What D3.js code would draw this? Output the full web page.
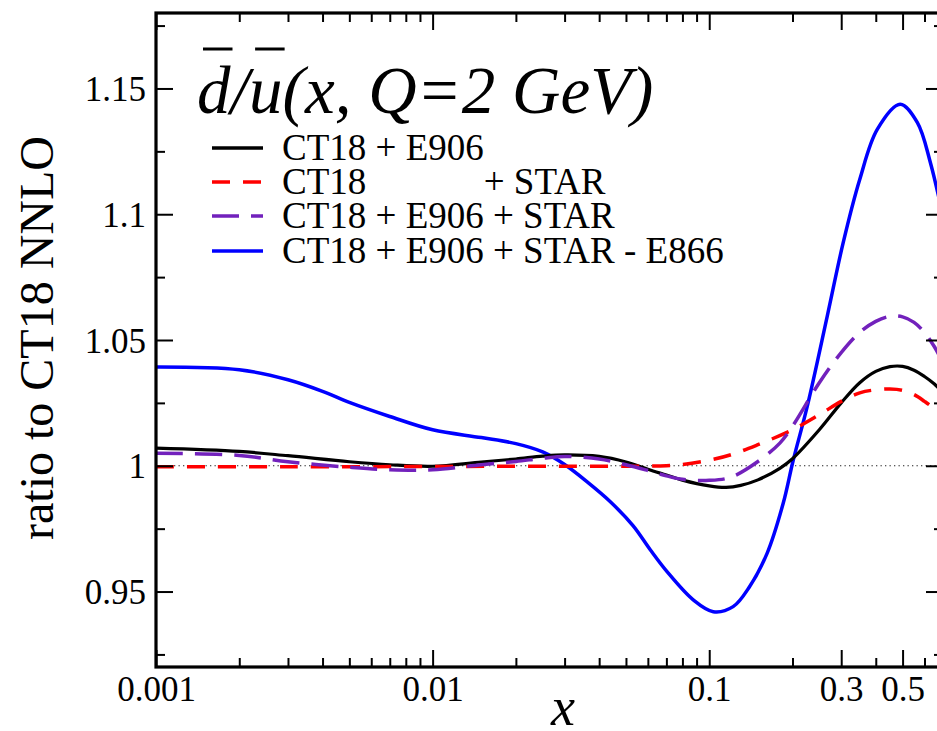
<!DOCTYPE html>
<html>
<head>
<meta charset="utf-8">
<script src="https://cdn.jsdelivr.net/npm/d3@7"></script>
<style>
  html, body { margin: 0; padding: 0; background: #fff; }
  svg { display: block; }
</style>
</head>
<body>
<svg id="chart" width="937" height="731"></svg>
<script>
// Ratio of dbar/ubar at Q = 2 GeV relative to CT18 NNLO, for four fit variants.
const xBlack  = [0.001, 0.002, 0.003, 0.005, 0.007, 0.01, 0.015, 0.02, 0.025, 0.03, 0.04, 0.05, 0.06, 0.07, 0.08, 0.1, 0.115, 0.13, 0.15, 0.18, 0.2, 0.25, 0.3, 0.35, 0.4, 0.45, 0.5, 0.55, 0.6, 0.65, 0.7];
const yBlack  = [1.0070, 1.0057, 1.0040, 1.0016, 1.0004, 0.9998, 1.0015, 1.0027, 1.0038, 1.0043, 1.0037, 1.0015, 0.9986, 0.9963, 0.9943, 0.9920, 0.9914, 0.9922, 0.9944, 0.9990, 1.0028, 1.0143, 1.0250, 1.0330, 1.0375, 1.0394, 1.0395, 1.0380, 1.0355, 1.0326, 1.0290];

const xRed    = [0.001, 0.003, 0.01, 0.02, 0.03, 0.05, 0.07, 0.08, 0.1, 0.12, 0.15, 0.2, 0.25, 0.3, 0.35, 0.4, 0.45, 0.5, 0.55, 0.6, 0.65, 0.7];
const yRed    = [0.9996, 0.9996, 0.9997, 0.9998, 0.9998, 0.9998, 1.0000, 1.0005, 1.0022, 1.0044, 1.0084, 1.0143, 1.0203, 1.0256, 1.0290, 1.0302, 1.0305, 1.0300, 1.0283, 1.0256, 1.0227, 1.0190];

const xPurple = [0.001, 0.002, 0.003, 0.005, 0.007, 0.01, 0.015, 0.02, 0.025, 0.03, 0.04, 0.05, 0.06, 0.07, 0.08, 0.1, 0.12, 0.15, 0.18, 0.2, 0.25, 0.3, 0.35, 0.4, 0.45, 0.5, 0.55, 0.6, 0.65, 0.7];
const yPurple = [1.0050, 1.0041, 1.0016, 0.9994, 0.9984, 0.9984, 1.0004, 1.0017, 1.0030, 1.0037, 1.0027, 1.0004, 0.9981, 0.9960, 0.9946, 0.9942, 0.9955, 1.0017, 1.0090, 1.0157, 1.0330, 1.0450, 1.0530, 1.0574, 1.0594, 1.0592, 1.0570, 1.0530, 1.0475, 1.0410];

const xBlue   = [0.001, 0.002, 0.003, 0.004, 0.005, 0.007, 0.01, 0.015, 0.02, 0.025, 0.03, 0.0362, 0.0439, 0.0531, 0.0612, 0.0705, 0.0875, 0.1034, 0.122, 0.14, 0.162, 0.185, 0.201, 0.226, 0.267, 0.305, 0.35, 0.405, 0.49, 0.565, 0.63, 0.7];
const yBlue   = [1.0393, 1.0382, 1.0342, 1.0296, 1.0252, 1.0196, 1.0143, 1.0112, 1.0088, 1.0055, 1.0005, 0.9936, 0.9857, 0.9761, 0.9666, 0.9578, 0.9467, 0.9420, 0.9440, 0.9520, 0.9653, 0.9850, 1.0020, 1.0235, 1.0594, 1.0887, 1.1138, 1.1337, 1.1437, 1.1365, 1.1206, 1.0990];

const seriesNames  = ["CT18 + E906", "CT18", "CT18 + E906 + STAR", "CT18 + E906 + STAR - E866"];
const seriesColors = ["#000000", "#ff0000", "#7221bc", "#0000ff"];
const seriesDash   = [null, "18,13", "27,12", null];

const xMajorTicks = [0.001, 0.01, 0.1, 0.3, 0.5];
const xMajorLabels = ["0.001", "0.01", "0.1", "0.3", "0.5"];
const xMinorTicks = [0.002, 0.003, 0.004, 0.005, 0.006, 0.007, 0.008, 0.009,
                     0.02, 0.03, 0.04, 0.05, 0.06, 0.07, 0.08, 0.09, 0.2, 0.4, 0.6];
const yMajorTicks = [0.95, 1.0, 1.05, 1.1, 1.15];
const yMajorLabels = ["0.95", "1", "1.05", "1.1", "1.15"];
const yMinorTicks = [0.925, 0.975, 1.025, 1.075, 1.125, 1.175];

const FF = '"Liberation Serif", "Times New Roman", serif';

const svg = d3.select("#chart");
const L = 156, T = 13, B = 667;

const x = d3.scaleLog().domain([0.001, 0.7]).range([L, 943]);
const y = d3.scaleLinear().domain([0.92, 1.18]).range([B, T]);
const R = x(0.7);

svg.append("defs").append("clipPath").attr("id", "plotclip")
  .append("rect").attr("x", L).attr("y", T).attr("width", R - L).attr("height", B - T);

// reference line at ratio = 1
svg.append("line")
  .attr("x1", L).attr("x2", R).attr("y1", y(1)).attr("y2", y(1))
  .attr("stroke", "#222").attr("stroke-width", 1.2).attr("stroke-dasharray", "1.3,3.2");

// curves
const seriesData = [
  d3.zip(xBlack, yBlack),
  d3.zip(xRed, yRed),
  d3.zip(xPurple, yPurple),
  d3.zip(xBlue, yBlue)
];
const line = d3.line().x(d => x(d[0])).y(d => y(d[1])).curve(d3.curveCatmullRom.alpha(0.5));
const plot = svg.append("g").attr("clip-path", "url(#plotclip)");
[3, 0, 1, 2].forEach(i => {
  plot.append("path")
    .attr("d", line(seriesData[i]))
    .attr("fill", "none")
    .attr("stroke", seriesColors[i])
    .attr("stroke-width", i === 0 ? 3.2 : 3.5)
    .attr("stroke-linejoin", "round")
    .attr("stroke-dasharray", seriesDash[i]);
});

// axes with inward ticks on all four sides
function styleAxis(g) {
  g.select(".domain").remove();
  g.selectAll(".tick line").attr("stroke", "#000").attr("stroke-width", 2);
}
svg.append("g").attr("transform", `translate(0,${B})`)
  .call(d3.axisBottom(x).tickValues(xMajorTicks).tickSize(-17).tickFormat((d, i) => xMajorLabels[i]))
  .call(styleAxis)
  .call(g => g.selectAll("text").attr("y", 34).attr("dy", null).attr("fill", "#000")
    .style("font-size", "35px").style("font-family", FF));
svg.append("g").attr("transform", `translate(0,${B})`)
  .call(d3.axisBottom(x).tickValues(xMinorTicks).tickSize(-9).tickFormat(""))
  .call(styleAxis);
svg.append("g").attr("transform", `translate(0,${T})`)
  .call(d3.axisTop(x).tickValues(xMajorTicks).tickSize(-17).tickFormat(""))
  .call(styleAxis);
svg.append("g").attr("transform", `translate(0,${T})`)
  .call(d3.axisTop(x).tickValues(xMinorTicks).tickSize(-9).tickFormat(""))
  .call(styleAxis);

svg.append("g").attr("transform", `translate(${L},0)`)
  .call(d3.axisLeft(y).tickValues(yMajorTicks).tickSize(-17).tickFormat((d, i) => yMajorLabels[i]))
  .call(styleAxis)
  .call(g => g.selectAll("text").attr("x", -10).attr("dy", "12px").attr("fill", "#000")
    .style("font-size", "35px").style("font-family", FF));
svg.append("g").attr("transform", `translate(${L},0)`)
  .call(d3.axisLeft(y).tickValues(yMinorTicks).tickSize(-9).tickFormat(""))
  .call(styleAxis);
svg.append("g").attr("transform", `translate(${R},0)`)
  .call(d3.axisRight(y).tickValues(yMajorTicks).tickSize(-17).tickFormat(""))
  .call(styleAxis);
svg.append("g").attr("transform", `translate(${R},0)`)
  .call(d3.axisRight(y).tickValues(yMinorTicks).tickSize(-9).tickFormat(""))
  .call(styleAxis);

// frame
svg.append("rect").attr("x", L).attr("y", T).attr("width", R - L).attr("height", B - T)
  .attr("fill", "none").attr("stroke", "#000").attr("stroke-width", 3.2);

function txt(xp, yp, size, str, italic) {
  return svg.append("text").attr("x", xp).attr("y", yp)
    .style("font-family", FF).style("font-size", size + "px")
    .style("font-style", italic ? "italic" : "normal").attr("fill", "#000").text(str);
}

// axis titles
txt(563, 725, 54, "x", true).attr("text-anchor", "middle");
txt(0, 0, 48, "ratio to CT18 NNLO", false).attr("text-anchor", "middle")
  .attr("transform", "translate(53,338) rotate(-90)");

// title, with overlines over d and u
const titleBase = 113;
const title = txt(197, titleBase, 67, "d/u(x, Q=2 GeV)", true);
const tnode = title.node();
[0, 2].forEach(ci => {
  const e = tnode.getExtentOfChar(ci);
  svg.append("line")
    .attr("x1", e.x + 6).attr("x2", e.x + e.width + 2)
    .attr("y1", 49).attr("y2", 49)
    .attr("stroke", "#000").attr("stroke-width", 3);
});

// legend
const legRows = [148, 182, 216, 251];
const legSize = 37;
const probe = txt(0, 0, legSize, "CT18 + E906 ", false);
const starOffset = probe.node().getComputedTextLength();
probe.remove();
seriesNames.forEach((name, i) => {
  svg.append("line")
    .attr("x1", 212).attr("x2", 263).attr("y1", legRows[i]).attr("y2", legRows[i])
    .attr("stroke", seriesColors[i]).attr("stroke-width", 3.5)
    .attr("stroke-dasharray", seriesDash[i]);
  txt(282, legRows[i] + 12, legSize, name, false);
  if (i === 1) txt(282 + starOffset, legRows[i] + 12, legSize, "+ STAR", false);
});
</script>
</body>
</html>
